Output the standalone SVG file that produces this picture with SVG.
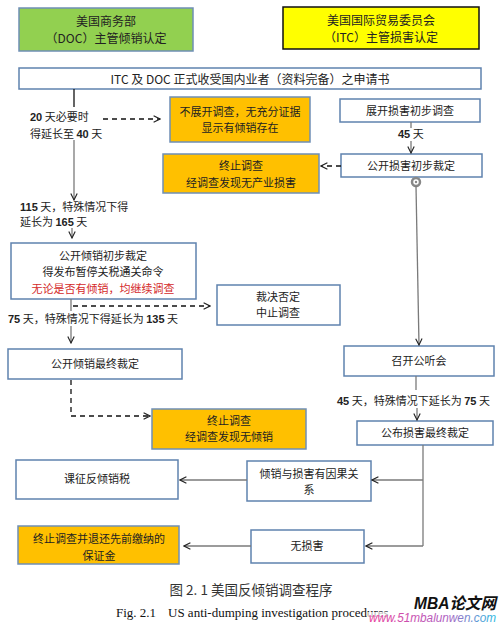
<svg xmlns="http://www.w3.org/2000/svg" width="499" height="624" viewBox="0 0 499 624">
<style>
text{font-family:"Noto Sans CJK SC","Liberation Sans",sans-serif;font-size:11px;fill:#222}
.c{text-anchor:middle}
.h{font-size:12px}
.b{fill:#fff;stroke:#5F82AE;stroke-width:1.5}
.o{fill:#FFC000;stroke:#6F8FB5;stroke-width:1.5}
.l{fill:none;stroke:#7a7a7a;stroke-width:1.3}
.k{fill:none;stroke:#111;stroke-width:1.3}
.d{fill:none;stroke:#111;stroke-width:1.3;stroke-dasharray:5 4}
.n{font-weight:bold;font-family:"Liberation Sans",sans-serif}
</style>
<defs>
<marker id="a" viewBox="0 0 10 10" refX="9" refY="5" markerWidth="8" markerHeight="8" markerUnits="userSpaceOnUse" orient="auto"><path d="M1,1 L9,5 L1,9" fill="none" stroke="#222" stroke-width="1.4"/></marker>
<linearGradient id="wm" x1="0" x2="1"><stop offset="0" stop-color="#E83E9A"/><stop offset="0.6" stop-color="#B060C0"/><stop offset="1" stop-color="#30B8E0"/></linearGradient>
</defs>
<rect width="499" height="624" fill="#fff"/>

<g id="doc-head"><rect x="19" y="8" width="174" height="43" fill="#92D050" stroke="#6F8FB5" stroke-width="1.5"/>
<text class="c h" x="106" y="26">美国商务部</text>
<text class="c h" x="106" y="43">（DOC）主管倾销认定</text></g>

<g id="itc-head"><rect x="283" y="7" width="196" height="42" fill="#FFFF00" stroke="#111" stroke-width="1.5"/>
<text class="c h" x="381" y="25">美国国际贸易委员会</text>
<text class="c h" x="381" y="42">（ITC）主管损害认定</text></g>

<g id="petition"><rect class="b" x="19" y="68" width="462" height="21"/>
<text class="c" x="250" y="84" style="font-size:12px">ITC 及 DOC 正式收受国内业者（资料完备）之申请书</text></g>

<g id="no-invest"><rect class="o" x="170" y="97" width="140" height="45"/>
<text class="c" x="240" y="116">不展开调查，无充分证据</text>
<text class="c" x="240" y="132">显示有倾销存在</text></g>

<g id="itc-prelim-inv"><rect class="b" x="340" y="99" width="140" height="23"/>
<text class="c" x="410" y="115">展开损害初步调查</text></g>

<g id="itc-prelim"><rect class="b" x="341" y="154" width="141" height="23"/>
<text class="c" x="411" y="170">公开损害初步裁定</text></g>

<g id="term-injury"><rect class="o" x="163" y="154" width="156" height="39"/>
<text class="c" x="241" y="170">终止调查</text>
<text class="c" x="241" y="187">经调查发现无产业损害</text></g>

<g id="doc-prelim"><rect class="b" x="11" y="243" width="185" height="56"/>
<text class="c" x="103" y="260">公开倾销初步裁定</text>
<text class="c" x="103" y="276">得发布暂停关税通关命令</text>
<text class="c" x="103" y="293" style="fill:#D42A2A">无论是否有倾销，均继续调查</text></g>

<g id="negative"><rect class="b" x="217" y="285" width="123" height="40"/>
<text class="c" x="278" y="301">裁决否定</text>
<text class="c" x="278" y="317">中止调查</text></g>

<g id="doc-final"><rect class="b" x="8" y="349" width="174" height="30"/>
<text class="c" x="95" y="368">公开倾销最终裁定</text></g>

<g id="hearing"><rect class="b" x="344" y="346" width="150" height="30"/>
<text class="c" x="419" y="365">召开公听会</text></g>

<g id="term-dumping"><rect class="o" x="152" y="409" width="154" height="40"/>
<text class="c" x="229" y="425">终止调查</text>
<text class="c" x="229" y="441">经调查发现无倾销</text></g>

<g id="itc-final"><rect class="b" x="357" y="421" width="136" height="24"/>
<text class="c" x="425" y="437">公布损害最终裁定</text></g>

<g id="causal"><rect class="b" x="247" y="461" width="124" height="40"/>
<text class="c" x="309" y="478">倾销与损害有因果关</text>
<text class="c" x="309" y="494">系</text></g>

<g id="duty"><rect class="b" x="16" y="460" width="162" height="39"/>
<text class="c" x="97" y="483">课征反倾销税</text></g>

<g id="no-injury"><rect class="b" x="251" y="530" width="113" height="33"/>
<text class="c" x="307" y="550">无损害</text></g>

<g id="refund"><rect class="o" x="18" y="526" width="161" height="38"/>
<text class="c" x="99" y="543">终止调查并退还先前缴纳的</text>
<text class="c" x="99" y="560">保证金</text></g>

<g id="connectors">
<path class="k" d="M74,89 V107"/>
<path class="l" d="M74,140 V200" marker-end="url(#a)"/>
<path class="d" d="M103,119 H160" marker-end="url(#a)"/>
<path class="l" d="M411,122 V128 M411,141 V153" marker-end="url(#a)"/>
<path class="d" d="M341,166 H321" stroke-dasharray="4 4" marker-end="url(#a)"/>
<circle cx="416" cy="182" r="4" fill="none" stroke="#888" stroke-width="2.5"/>
<circle cx="416" cy="182" r="1.2" fill="#888"/>
<path class="l" d="M416,186 L419,345" marker-end="url(#a)"/>
<path class="l" d="M72,228 V238" marker-end="url(#a)"/>
<path class="l" d="M71,299 V311" stroke-width="2"/>
<path class="d" d="M73,306 H210" marker-end="url(#a)"/>
<path class="l" d="M71,326 V343" marker-end="url(#a)"/>
<path class="d" d="M71,380 V416 H150" marker-end="url(#a)"/>
<path class="l" d="M416,376 V390"/>
<path class="l" d="M417,408 V420" marker-end="url(#a)"/>
<path class="l" d="M423,445 V546"/>
<path class="l" d="M423,480 H372" marker-end="url(#a)"/>
<path class="l" d="M247,480 H180" marker-end="url(#a)"/>
<path class="l" d="M423,546 H366" marker-end="url(#a)"/>
<path class="l" d="M251,546 H184" marker-end="url(#a)"/>
</g>

<g id="labels">
<text x="30" y="121"><tspan class="n">20</tspan> 天必要时</text>
<text x="30" y="138">得延长至 <tspan class="n">40</tspan> 天</text>
<text x="398" y="138"><tspan class="n">45</tspan> 天</text>
<text x="20" y="211"><tspan class="n">115</tspan> 天，特殊情况下得</text>
<text x="20" y="226">延长为 <tspan class="n">165</tspan> 天</text>
<text x="8" y="323"><tspan class="n">75</tspan> 天，特殊情况下得延长为 <tspan class="n">135</tspan> 天</text>
<text x="337" y="405"><tspan class="n">45</tspan> 天，特殊情况下延长为 <tspan class="n">75</tspan> 天</text>
</g>

<g id="caption">
<text class="c" x="251" y="595" style="font-size:13.5px;fill:#333">图 2. 1 美国反倾销调查程序</text>
<text x="116" y="617" style="font-family:'Liberation Serif',serif;font-size:13px;fill:#111">Fig. 2.1</text>
<text x="168" y="617" style="font-family:'Liberation Serif',serif;font-size:13px;fill:#111">US anti-dumping investigation procedures</text>
</g>
<g id="watermark">
<text x="414" y="609" textLength="82" lengthAdjust="spacingAndGlyphs" style="font-family:'Liberation Sans','Noto Sans CJK SC',sans-serif;font-size:16px;font-weight:bold;font-style:italic;fill:#111">MBA论文网</text>
<rect x="368" y="612" width="131" height="12" fill="#fff" opacity="0.7"/>
<text x="369" y="622" textLength="127" lengthAdjust="spacingAndGlyphs" style="font-family:'Liberation Sans',sans-serif;font-size:12px;font-style:italic;fill:url(#wm)">www.51mbalunwen.com</text>
</g>
</svg>
